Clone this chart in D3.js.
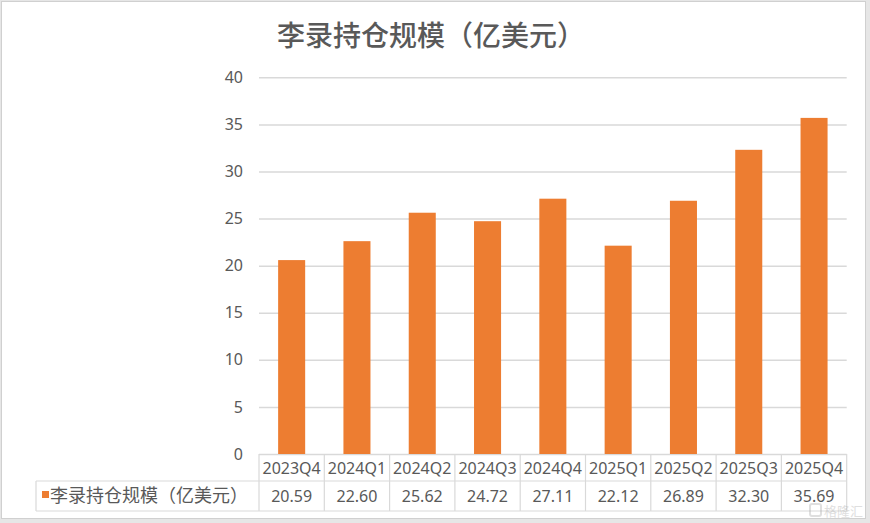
<!DOCTYPE html>
<html>
<head>
<meta charset="utf-8">
<script src="https://cdn.jsdelivr.net/npm/d3@7"></script>
<style>
  html, body { margin: 0; padding: 0; background: #fff; }
  svg { display: block; font-family: "Noto Sans CJK SC", "Noto Sans", sans-serif; }
</style>
</head>
<body>
<script>
/* global d3 */
var categories = ["2023Q4", "2024Q1", "2024Q2", "2024Q3", "2024Q4", "2025Q1", "2025Q2", "2025Q3", "2025Q4"];
var holdings = [20.59, 22.60, 25.62, 24.72, 27.11, 22.12, 26.89, 32.30, 35.69];
var yTicks = [0, 5, 10, 15, 20, 25, 30, 35, 40];
var seriesName = "李录持仓规模（亿美元）";
var title = "李录持仓规模（亿美元）";

(function () {
  "use strict";
  var width = 870, height = 523,
    left = 259, right = 846.7, top = 77.3, bottom = 454,
    row1 = 481, row2 = 511, legendLeft = 36,
    orange = "#ED7D31", grid = "#d9d9d9", textColor = "#595959",
    svg, x, y;

  svg = d3.select("body").append("svg")
    .attr("width", width)
    .attr("height", height);

  // outer frame
  svg.append("rect")
    .attr("x", 0).attr("y", 0)
    .attr("width", width).attr("height", height)
    .attr("fill", "#e6e6e6");
  svg.append("rect")
    .attr("x", 1.5).attr("y", 1.5)
    .attr("width", 864).attr("height", 517)
    .attr("fill", "#fff")
    .attr("stroke", "#d0d0d0");

  x = d3.scaleBand()
    .domain(categories)
    .range([left, right])
    .paddingInner(0.586)
    .paddingOuter(0.293);

  y = d3.scaleLinear()
    .domain([0, 40])
    .range([bottom, top]);

  svg.append("text")
    .attr("x", 431)
    .attr("y", 46)
    .attr("text-anchor", "middle")
    .attr("fill", textColor)
    .style("font-size", "28px")
    .style("font-weight", "500")
    .text(title);

  // y axis: gridlines and labels
  var yAxis = svg.append("g")
    .attr("transform", "translate(" + left + ",0)")
    .call(d3.axisLeft(y).tickValues(yTicks).tickSize(-(right - left)).tickPadding(16));
  yAxis.select(".domain").remove();
  yAxis.selectAll(".tick line").attr("stroke", grid).attr("stroke-width", 1.5);
  yAxis.selectAll(".tick text")
    .attr("fill", textColor)
    .style("font-size", "16px")
    .style("font-family", "'Noto Sans', sans-serif");

  svg.selectAll(".bar")
    .data(holdings)
    .enter().append("rect")
    .attr("class", "bar")
    .attr("x", function (d, i) { return x(categories[i]); })
    .attr("y", function (d) { return y(d); })
    .attr("width", x.bandwidth())
    .attr("height", function (d) { return y(0) - y(d); })
    .attr("fill", orange);

  // data table
  var table = svg.append("g").attr("stroke", grid).attr("stroke-width", 1.2);
  var bounds = categories.map(function (c) { return x(c) - x.step() * x.paddingInner() / 2; });
  bounds.push(right);
  table.selectAll(".vline")
    .data(bounds)
    .enter().append("line")
    .attr("x1", function (d) { return d; })
    .attr("x2", function (d) { return d; })
    .attr("y1", bottom)
    .attr("y2", row2);
  table.append("line").attr("x1", legendLeft).attr("x2", legendLeft).attr("y1", row1).attr("y2", row2);
  table.append("line").attr("x1", legendLeft).attr("x2", right).attr("y1", row1).attr("y2", row1);
  table.append("line").attr("x1", legendLeft).attr("x2", right).attr("y1", row2).attr("y2", row2);

  svg.selectAll(".cat")
    .data(categories)
    .enter().append("text")
    .attr("class", "cat")
    .attr("x", function (d) { return x(d) + x.bandwidth() / 2; })
    .attr("y", (bottom + row1) / 2 + 6)
    .attr("text-anchor", "middle")
    .attr("fill", textColor)
    .style("font-size", "16px")
    .style("font-family", "'Noto Sans', sans-serif")
    .text(function (d) { return d; });

  svg.selectAll(".val")
    .data(holdings)
    .enter().append("text")
    .attr("class", "val")
    .attr("x", function (d, i) { return x(categories[i]) + x.bandwidth() / 2; })
    .attr("y", (row1 + row2) / 2 + 6)
    .attr("text-anchor", "middle")
    .attr("fill", textColor)
    .style("font-size", "16px")
    .style("font-family", "'Noto Sans', sans-serif")
    .text(function (d) { return d.toFixed(2); });

  svg.append("rect")
    .attr("x", 42).attr("y", 491)
    .attr("width", 7).attr("height", 7)
    .attr("fill", orange);
  svg.append("text")
    .attr("x", 50)
    .attr("y", (row1 + row2) / 2 + 6)
    .attr("fill", textColor)
    .style("font-size", "18px")
    .text(seriesName);

  // watermark
  var wm = svg.append("g").attr("opacity", 0.4).attr("fill", "#b0b0b0");
  wm.append("rect")
    .attr("x", 810).attr("y", 504)
    .attr("width", 11).attr("height", 12)
    .attr("rx", 2)
    .attr("fill", "none")
    .attr("stroke", "#b0b0b0")
    .attr("stroke-width", 2);
  wm.append("text")
    .attr("x", 824).attr("y", 516)
    .style("font-size", "13px")
    .text("格隆汇");
})();
</script>
</body>
</html>
